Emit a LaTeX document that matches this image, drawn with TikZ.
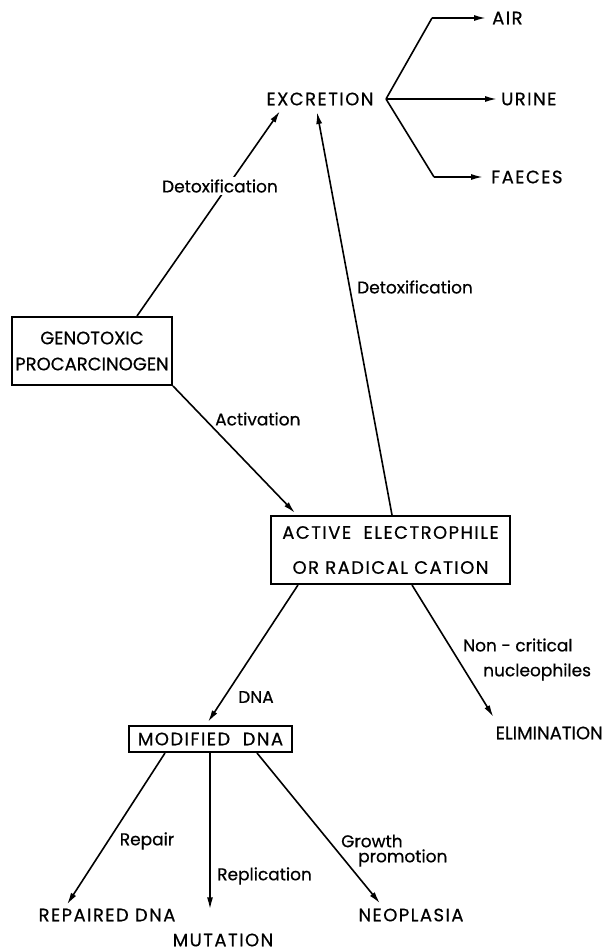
\documentclass[tikz,border=0pt]{standalone}
\usepackage{fontspec}
\setmainfont{Poppins}
\newfontfamily\capsfont{Poppins}[LetterSpace=8,FakeBold=0.6]
\newfontfamily\tightfont{Poppins}[LetterSpace=0,FakeBold=0.6]
\newfontfamily\lblfont{Poppins}[FakeBold=0.6]
\usetikzlibrary{arrows.meta,calc}
\begin{document}
\begin{tikzpicture}[x=1pt,y=-1pt,
  txt/.style={inner sep=0pt,font=\capsfont\fontsize{18}{22}\selectfont},
  lbl/.style={inner sep=0pt,font=\lblfont\fontsize{17}{20}\selectfont},
  boxnode/.style={draw,line width=2pt,inner sep=0pt,align=center,font=\capsfont\fontsize{18}{22}\selectfont},
  link/.style={line width=1.6pt,-{Latex[length=12pt,width=6pt]}},
  plain/.style={line width=1.6pt}]
\useasboundingbox (0,0) rectangle (605,952);
% nodes
\node[txt] (excr) at (320,99) {EXCRETION};
\node[txt,anchor=west] (air) at (492,18) {AIR};
\node[txt,anchor=west] (urine) at (501,99) {URINE};
\node[txt,anchor=west] (faeces) at (491,177) {FAECES};
\coordinate (br) at (386,99);
\coordinate (airc) at (432,18);
\coordinate (faec) at (434,177);
\node[boxnode,minimum width=160pt,minimum height=68pt,font=\tightfont\fontsize{18}{22}\selectfont] (geno) at (92,351)
  {GENOTOXIC\\[4pt]PROCARCINOGEN};
\node[boxnode,minimum width=239pt,minimum height=68pt] (active) at (390.5,550)
  {ACTIVE\ \ ELECTROPHILE\\[13pt]OR\ RADICAL\ CATION};
\node[boxnode,minimum width=163pt,minimum height=26pt] (mod) at (210.5,739) {MODIFIED\ \ DNA};
\node[txt,anchor=east,font=\tightfont\fontsize{18}{22}\selectfont] (elim) at (603,733) {ELIMINATION};
\node[txt] (rep) at (107,915) {REPAIRED DNA};
\node[txt] (mut) at (223,940) {MUTATION};
\node[txt] (neo) at (411,915) {NEOPLASIA};
% connectors
\draw[plain] (br) -- (airc);
\draw[link] (airc) -- ([xshift=-6pt]air.west);
\draw[link] (br) -- ([xshift=-4pt]urine.west);
\draw[plain] (br) -- (faec);
\draw[link] (faec) -- ([xshift=-8pt]faeces.west);
\draw[link] ([xshift=45pt]geno.north) -- ($(excr.center)+(-40,12)$);
\draw[link] (geno.south east) -- ($(active.north west)+(25,-2)$);
\draw[link] ($(active.north)+(1.5,0)$) -- ($(excr.center)+(-3,13)$);
\draw[link] ($(active.south west)+(28,0)$) -- ($(mod.north)+(-2.5,-3)$);
\draw[link] ($(active.south west)+(142,0)$) -- ($(elim.west)+(-2,-16)$);
\draw[link] ($(mod.south west)+(37,0)$) -- ($(rep.north)+(-40,-4)$);
\draw[link] ($(mod.south)+(-0.5,0)$) -- ($(mut.north)+(-13,-24)$);
\draw[link] ($(mod.south west)+(129,0)$) -- ($(neo.north)+(-31,-5)$);
% labels
\node[lbl,fill=white,inner sep=2pt] (l1) at (220,186) {Detoxification};
\node[lbl,anchor=west] (l2) at (357,287) {Detoxification};
\node[lbl,anchor=west] (l3) at (215,419) {Activation};
\node[lbl] (l4) at (256,697) {DNA};
\node[lbl,anchor=west] (l5) at (463,645) {Non - critical};
\node[lbl,anchor=west] (l6) at (483,672) {nucleophiles};
\node[lbl] (l7) at (147,841) {Repair};
\node[lbl,anchor=west] (l8) at (217,876) {Replication};
\node[lbl,anchor=west] (l9) at (341,841) {Growth};
\node[lbl,anchor=west] (l10) at (358,858) {promotion};
\end{tikzpicture}
\end{document}
